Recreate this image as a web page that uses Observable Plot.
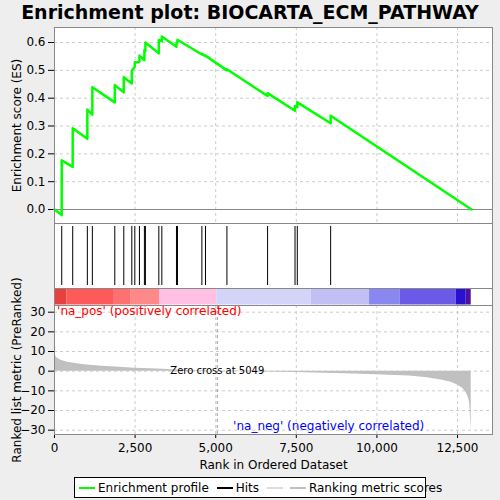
<!DOCTYPE html>
<html><head><meta charset="utf-8">
<script src="https://cdn.jsdelivr.net/npm/d3@7"></script>
<script src="https://cdn.jsdelivr.net/npm/@observablehq/plot@0.6"></script>
<style>
body{margin:0;background:#eeeeee;font-family:"DejaVu Sans",sans-serif;width:500px;}
#title{height:27px;line-height:25px;text-align:center;font-weight:bold;font-size:19px;}
#legend{margin:3px 0 0 74px;width:352px;height:21px;border:1px solid #000;background:#fff;font-size:12px;display:flex;align-items:center;gap:8px;padding-left:4px;box-sizing:border-box;white-space:nowrap}
.sw{display:inline-block;width:16px;height:2px;vertical-align:middle;margin-right:3px}
svg{display:block;overflow:visible}
</style></head>
<body>
<div id="title">Enrichment plot: BIOCARTA_ECM_PATHWAY</div>
<div id="p1"></div><div id="p2"></div><div id="p3"></div>
<div id="legend"><span><span class="sw" style="background:#00ff00"></span>Enrichment profile</span><span><span class="sw" style="background:#000"></span>Hits</span><span><span class="sw" style="background:#ddd"></span> <span class="sw" style="background:#c0c0c0"></span>Ranking metric scores</span></div>
<script>
// hits and ES just before / after each hit
const hitRanks = [224,565,1019,1174,1870,2149,2398,2491,2634,2789,2820,3236,3329,3783,3814,4571,4683,5348,6609,7460,7531,8565];
const esBefore = [-0.02,0.153,0.254,0.341,0.385,0.421,0.453,0.513,0.530,0.537,0.570,0.561,0.605,0.585,0.600,0.557,0.551,0.500,0.408,0.355,0.368,0.310];
const esAfter  = [0.177,0.292,0.359,0.439,0.447,0.475,0.499,0.529,0.553,0.573,0.600,0.609,0.622,0.600,0.610,0.560,0.553,0.504,0.418,0.372,0.385,0.337];
const lastRank = 12935;

const metricRanks  = [0,60,200,400,700,1000,1500,2000,2500,3000,4000,5049,6000,7500,9000,10000,11000,11500,12000,12300,12500,12650,12750,12800,12850,12880,12900,12925];
const metricValues = [9.3,7,5.5,4.6,3.8,3.1,2.5,2.0,1.5,1.2,0.5,0,-0.3,-0.7,-1.3,-1.8,-2.5,-3.2,-4.5,-5.6,-7,-8.5,-10.5,-12,-14,-17,-23,-30];

const bandStarts = [0,384,1830,2380,3257,5036,7962,9771,10723,12459,12770];
const bandEnds   = [384,1830,2380,3257,5036,7962,9771,10723,12459,12770,12925];
const bandColors = ["#e8403f","#ff5a5a","#ff7070","#ff8888","#ffc0e4","#d4d4f8","#c0c0f4","#8888f0","#6a5ae8","#2a10d0","#5010a0"];

const xTicks = [0,2500,5000,7500,10000,12500];
const zeroCross = 5049;

const esPts = [[0,0]];
hitRanks.forEach((r,i)=>{esPts.push([r-1,esBefore[i]]);esPts.push([r,esAfter[i]]);});
esPts.push([lastRank,0]);

const xDom=[0,13585], ml=54, mr=8;
const common = {width:500, marginLeft:ml, marginRight:mr, style:{background:"transparent",fontSize:"12px",fontFamily:"DejaVu Sans, sans-serif",overflow:"visible"}};
const grid = {stroke:"#ccc",strokeOpacity:1,strokeDasharray:"3,3"};

const p1 = Plot.plot({...common, height:196, marginTop:0, marginBottom:0,
  x:{domain:xDom, axis:null},
  y:{domain:[-0.0503,0.654], ticks:[0,0.1,0.2,0.3,0.4,0.5,0.6], tickFormat:d3.format(".1f"), label:"Enrichment score (ES)", labelAnchor:"center", labelArrow:"none", labelOffset:42},
  marks:[
    Plot.frame({fill:"#fff"}),
    Plot.gridX(xTicks,grid), Plot.gridY([0.1,0.2,0.3,0.4,0.5,0.6],grid),
    Plot.ruleY([0],{stroke:"#888"}),
    Plot.line(esPts,{x:d=>d[0],y:d=>d[1],stroke:"#00ff00",strokeWidth:2.5}),
    Plot.frame({stroke:"#888"})
  ]});
document.getElementById("p1").append(p1);

const p2 = Plot.plot({...common, height:82, marginTop:0, marginBottom:0,
  x:{domain:xDom, axis:null}, y:{domain:[0,82], range:[0,82], axis:null},
  marks:[
    Plot.rect([0],{x1:xDom[0],x2:xDom[1],y1:0,y2:82,fill:"#fff"}),
    Plot.rect(bandColors,{x1:(d,i)=>bandStarts[i],x2:(d,i)=>bandEnds[i],y1:65.5,y2:81.5,fill:d=>d}),
    Plot.ruleX(hitRanks,{y1:3,y2:62,stroke:"#000"}),
    Plot.ruleY([65,82],{stroke:"#888"}),
    Plot.frame({stroke:"#888"})
  ]});
document.getElementById("p2").append(p2);

const p3 = Plot.plot({...common, height:169, marginTop:0, marginBottom:40,
  x:{domain:xDom, ticks:xTicks, tickFormat:d3.format(","), label:"Rank in Ordered Dataset", labelAnchor:"center", labelArrow:"none", labelOffset:34, tickSize:4},
  y:{domain:[-32.2,33.4], ticks:[-30,-20,-10,0,10,20,30], label:"Ranked list metric (PreRanked)", labelAnchor:"center", labelArrow:"none", labelOffset:42},
  marks:[
    Plot.frame({fill:"#fff"}),
    Plot.gridX(xTicks,grid), Plot.gridY([-30,-20,-10,0,10,20,30],grid),
    Plot.areaY(metricRanks,{x:d=>d,y:(d,i)=>metricValues[i],fill:"#c0c0c0"}),
    Plot.ruleX([zeroCross],{stroke:"#999",strokeDasharray:"3,3"}),
    Plot.text(["Zero cross at "+zeroCross],{x:zeroCross,y:0,fontSize:10,fill:"#000"}),
    Plot.text(["'na_pos' (positively correlated)"],{x:80,y:30.5,textAnchor:"start",fill:"#ff0000",fontSize:12}),
    Plot.text(["'na_neg' (negatively correlated)"],{x:11470,y:-28,textAnchor:"end",fill:"#0000ff",fontSize:12}),
    Plot.frame({stroke:"#888"})
  ]});
document.getElementById("p3").append(p3);
</script></body></html>
